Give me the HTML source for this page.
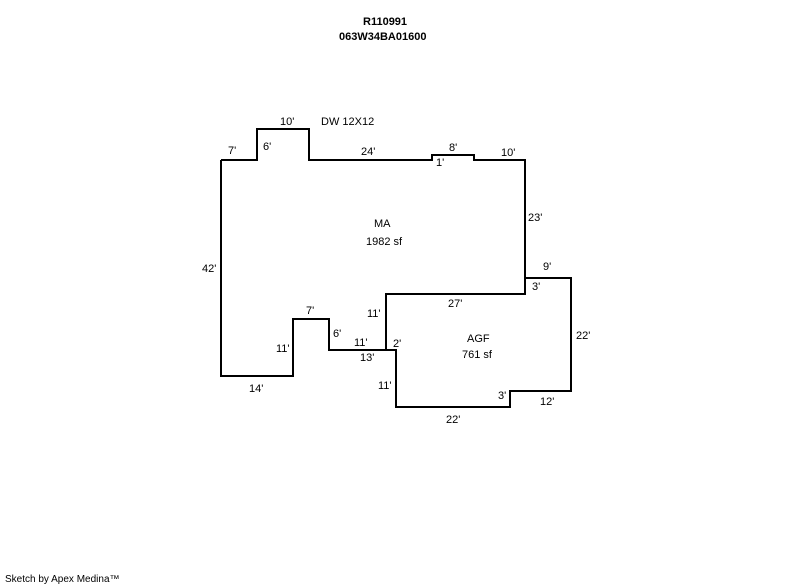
<!DOCTYPE html>
<html><head><style>
body{margin:0;background:#fff;}
.c{position:relative;width:800px;height:587px;overflow:hidden;font-family:"Liberation Sans",Arial,sans-serif;font-size:11px;color:#000;}
svg{position:absolute;left:0;top:0;}
.t{position:absolute;white-space:nowrap;line-height:12px;}
</style></head><body><div class="c">
<svg width="800" height="587">
<g fill="none" stroke="#000" stroke-width="2">
<polyline points="221,160 257,160 257,129 309,129 309,160 432,160 432,155 474,155 474,160 525,160 525,294 386,294 386,350 329,350 329,319 293,319 293,376 221,376 221,160"/>
<polyline points="525,278 571,278 571,391 510,391 510,407 396,407 396,350 386,350"/>
</g>
</svg>
<div class="t" style="left:363px;top:16px;font-weight:bold;">R110991</div>
<div class="t" style="left:339px;top:31px;font-weight:bold;">063W34BA01600</div>
<div class="t" style="left:280px;top:116px;">10'</div>
<div class="t" style="left:321px;top:116px;">DW 12X12</div>
<div class="t" style="left:228px;top:145px;">7'</div>
<div class="t" style="left:263px;top:141px;">6'</div>
<div class="t" style="left:361px;top:146px;">24'</div>
<div class="t" style="left:449px;top:142px;">8'</div>
<div class="t" style="left:436px;top:157px;">1'</div>
<div class="t" style="left:501px;top:147px;">10'</div>
<div class="t" style="left:528px;top:212px;">23'</div>
<div class="t" style="left:374px;top:218px;">MA</div>
<div class="t" style="left:366px;top:236px;">1982 sf</div>
<div class="t" style="left:202px;top:263px;">42'</div>
<div class="t" style="left:543px;top:261px;">9'</div>
<div class="t" style="left:532px;top:281px;">3'</div>
<div class="t" style="left:448px;top:298px;">27'</div>
<div class="t" style="left:306px;top:305px;">7'</div>
<div class="t" style="left:367px;top:308px;">11'</div>
<div class="t" style="left:576px;top:330px;">22'</div>
<div class="t" style="left:333px;top:328px;">6'</div>
<div class="t" style="left:354px;top:337px;">11'</div>
<div class="t" style="left:393px;top:338px;">2'</div>
<div class="t" style="left:467px;top:333px;">AGF</div>
<div class="t" style="left:462px;top:349px;">761 sf</div>
<div class="t" style="left:276px;top:343px;">11'</div>
<div class="t" style="left:360px;top:352px;">13'</div>
<div class="t" style="left:249px;top:383px;">14'</div>
<div class="t" style="left:378px;top:380px;">11'</div>
<div class="t" style="left:498px;top:390px;">3'</div>
<div class="t" style="left:540px;top:396px;">12'</div>
<div class="t" style="left:446px;top:414px;">22'</div>
<div class="t" style="left:5px;top:574px;font-size:10px;">Sketch by Apex Medina™</div>
</div></body></html>
